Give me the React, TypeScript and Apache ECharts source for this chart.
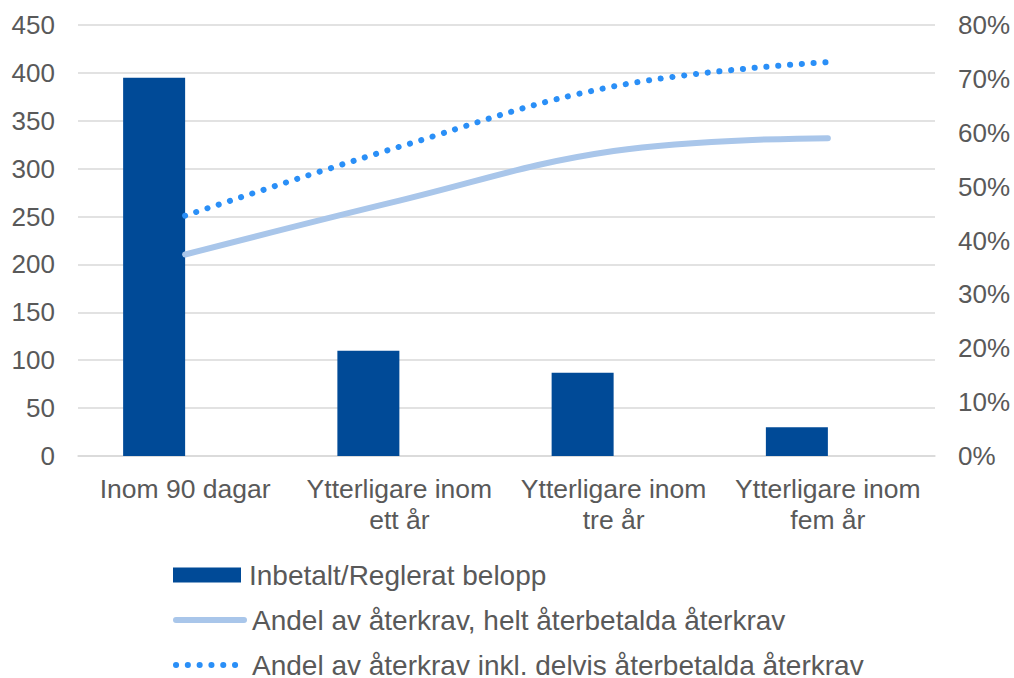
import React, { useEffect, useRef } from "react";
import * as echarts from "echarts";

const categories = [
  "Inom 90 dagar",
  "Ytterligare inom\nett år",
  "Ytterligare inom\ntre år",
  "Ytterligare inom\nfem år",
];
const barName = "Inbetalt/Reglerat belopp";
const barValues = [395, 110, 87, 30];
const solidName = "Andel av återkrav, helt återbetalda återkrav";
const solidValues = [0.374, 0.474, 0.566, 0.59];
const dottedName = "Andel av återkrav inkl. delvis återbetalda återkrav";
const dottedValues = [0.446, 0.574, 0.686, 0.731];
const leftTicks = { min: 0, max: 450, interval: 50 };
const rightTicks = { min: 0, max: 0.8, interval: 0.1 };

const FONT = "'Liberation Sans', Arial, sans-serif";
const TEXT = "#595959";
const GRID = "#d9d9d9";
const BAR_COLOR = "#004a97";
const SOLID_COLOR = "#a9c6ea";
const DOT_COLOR = "#2a8ff7";
const DOT_DASH = [0.1, 11.7];

export default function App() {
  const ref = useRef<HTMLDivElement>(null);
  useEffect(() => {
    document.body.style.margin = "0";
    const chart = echarts.init(ref.current!, null, { renderer: "svg" });
    const legendBase = {
      orient: "vertical",
      left: 173,
      padding: 0,
      itemWidth: 68,
      itemHeight: 15,
      textStyle: {
        color: TEXT,
        fontSize: 28,
        fontFamily: FONT,
        lineHeight: 30,
        padding: [0, 0, 0, 3],
      },
    };
    chart.setOption({
      animation: false,
      textStyle: { fontFamily: FONT },
      grid: { left: 78, right: 79, top: 25, bottom: 222, containLabel: false },
      legend: [
        { ...legendBase, top: 560, data: [{ name: barName, icon: "rect" }] },
        {
          ...legendBase,
          top: 605,
          data: [solidName],
          itemStyle: { color: "transparent", borderWidth: 0, opacity: 0 },
          lineStyle: { width: 6, color: SOLID_COLOR, cap: "round", opacity: 1 },
        },
        {
          ...legendBase,
          top: 650,
          data: [dottedName],
          itemStyle: { color: "transparent", borderWidth: 0, opacity: 0 },
          lineStyle: { width: 6, color: DOT_COLOR, cap: "round", type: DOT_DASH, opacity: 1 },
        },
      ],
      xAxis: {
        type: "category",
        data: categories,
        axisLine: { lineStyle: { color: GRID, width: 1.5 } },
        axisTick: { show: false },
        axisLabel: {
          color: TEXT,
          fontSize: 26.5,
          fontFamily: FONT,
          lineHeight: 31,
          margin: 17,
          interval: 0,
        },
      },
      yAxis: [
        {
          type: "value",
          ...leftTicks,
          axisLine: { show: false },
          axisTick: { show: false },
          splitLine: { lineStyle: { color: GRID, width: 1.5 } },
          axisLabel: { color: TEXT, fontSize: 26, fontFamily: FONT, margin: 23 },
        },
        {
          type: "value",
          ...rightTicks,
          axisLine: { show: false },
          axisTick: { show: false },
          splitLine: { show: false },
          axisLabel: {
            color: TEXT,
            fontSize: 26,
            fontFamily: FONT,
            margin: 23,
            formatter: (v: number) => Math.round(v * 100) + "%",
          },
        },
      ],
      series: [
        {
          name: barName,
          type: "bar",
          data: barValues,
          barWidth: 62,
          barGap: "0%",
          itemStyle: { color: BAR_COLOR },
        },
        {
          name: "_gap",
          type: "bar",
          data: barValues.map(() => "-"),
          barWidth: 62,
          barGap: "0%",
        },
        {
          name: solidName,
          type: "line",
          yAxisIndex: 1,
          data: solidValues,
          smooth: 0.4,
          symbol: "none",
          lineStyle: { color: SOLID_COLOR, width: 6, cap: "round" },
          itemStyle: { color: SOLID_COLOR },
        },
        {
          name: dottedName,
          type: "line",
          yAxisIndex: 1,
          data: dottedValues,
          smooth: 0.4,
          symbol: "none",
          lineStyle: { color: DOT_COLOR, width: 6, cap: "round", type: DOT_DASH },
          itemStyle: { color: DOT_COLOR },
        },
      ],
    });
    return () => chart.dispose();
  }, []);
  return <div ref={ref} style={{ width: 1014, height: 678 }} />;
}
